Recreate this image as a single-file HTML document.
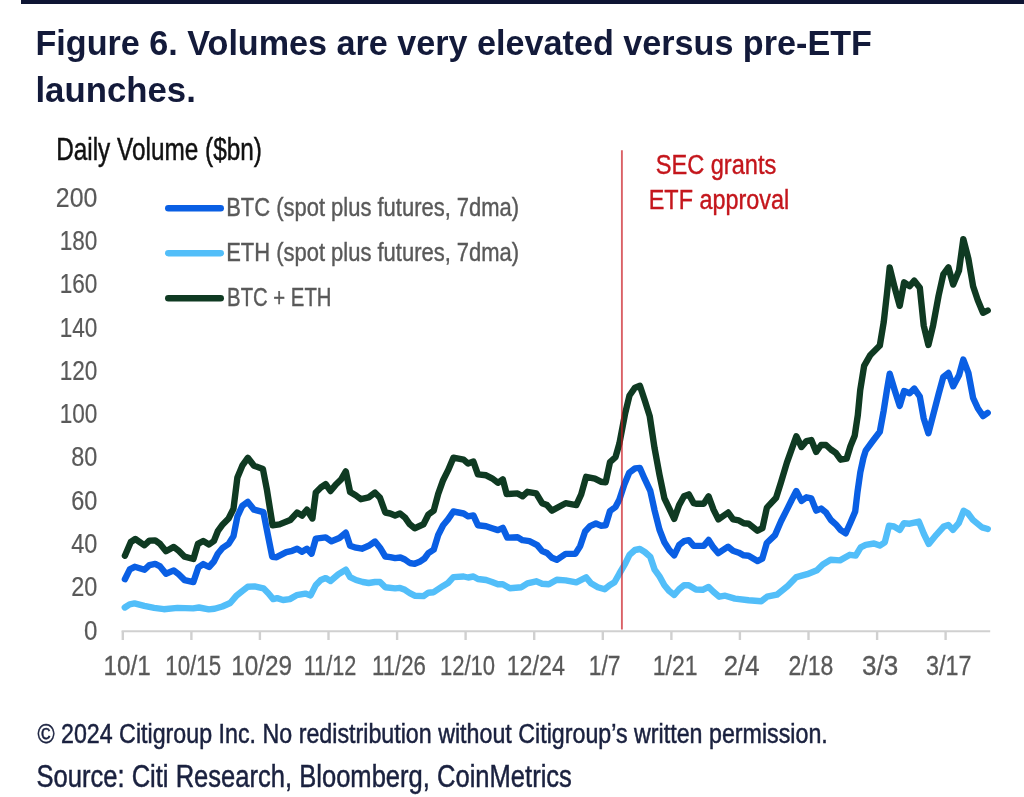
<!DOCTYPE html>
<html lang="en"><head><meta charset="utf-8"><title>Figure 6. Volumes are very elevated versus pre-ETF launches.</title>
<style>
html,body{margin:0;padding:0;background:#fff;}
body{width:1024px;height:797px;overflow:hidden;position:relative;font-family:"Liberation Sans",sans-serif;}
.topbar{position:absolute;left:21px;top:0;width:1003px;height:3.5px;background:#0e1533;}
svg{position:absolute;left:0;top:0;}
svg text{font-family:"Liberation Sans",sans-serif;}
</style></head><body>
<div class="topbar"></div>
<svg width="1024" height="797" viewBox="0 0 1024 797">
<g class="title">
<text x="35.48" y="55.0" font-size="35" fill="#131a3a" font-weight="bold" textLength="836.42" lengthAdjust="spacingAndGlyphs">Figure 6. Volumes are very elevated versus pre-ETF</text>
<text x="35.48" y="101.6" font-size="35" fill="#131a3a" font-weight="bold" textLength="160.32" lengthAdjust="spacingAndGlyphs">launches.</text>
</g>
<text x="56.19" y="160.1" font-size="32" fill="#111111" stroke="#111111" stroke-width="0.5" textLength="205.66" lengthAdjust="spacingAndGlyphs">Daily Volume ($bn)</text>
<g class="yaxis">
<text x="83.96" y="639.7" font-size="27.5" fill="#595959" stroke="#595959" stroke-width="0.2" textLength="13.40" lengthAdjust="spacingAndGlyphs">0</text>
<text x="71.26" y="596.4" font-size="27.5" fill="#595959" stroke="#595959" stroke-width="0.2" textLength="26.10" lengthAdjust="spacingAndGlyphs">20</text>
<text x="71.26" y="553.1" font-size="27.5" fill="#595959" stroke="#595959" stroke-width="0.2" textLength="26.10" lengthAdjust="spacingAndGlyphs">40</text>
<text x="71.26" y="509.7" font-size="27.5" fill="#595959" stroke="#595959" stroke-width="0.2" textLength="26.10" lengthAdjust="spacingAndGlyphs">60</text>
<text x="71.26" y="466.4" font-size="27.5" fill="#595959" stroke="#595959" stroke-width="0.2" textLength="26.10" lengthAdjust="spacingAndGlyphs">80</text>
<text x="59.68" y="423.1" font-size="27.5" fill="#595959" stroke="#595959" stroke-width="0.2" textLength="37.68" lengthAdjust="spacingAndGlyphs">100</text>
<text x="59.68" y="379.8" font-size="27.5" fill="#595959" stroke="#595959" stroke-width="0.2" textLength="37.68" lengthAdjust="spacingAndGlyphs">120</text>
<text x="59.68" y="336.5" font-size="27.5" fill="#595959" stroke="#595959" stroke-width="0.2" textLength="37.68" lengthAdjust="spacingAndGlyphs">140</text>
<text x="59.68" y="293.1" font-size="27.5" fill="#595959" stroke="#595959" stroke-width="0.2" textLength="37.68" lengthAdjust="spacingAndGlyphs">160</text>
<text x="59.68" y="249.8" font-size="27.5" fill="#595959" stroke="#595959" stroke-width="0.2" textLength="37.68" lengthAdjust="spacingAndGlyphs">180</text>
<text x="55.82" y="206.5" font-size="27.5" fill="#595959" stroke="#595959" stroke-width="0.2" textLength="41.54" lengthAdjust="spacingAndGlyphs">200</text>
</g>
<g class="xaxis">
<path d="M121.6,631.2H990.2" stroke="#d0d0d0" stroke-width="2.1" fill="none"/>
<path d="M122.8,631.2V640" stroke="#d0d0d0" stroke-width="2.4" fill="none"/>
<path d="M191.4,631.2V640" stroke="#d0d0d0" stroke-width="2.4" fill="none"/>
<path d="M259.9,631.2V640" stroke="#d0d0d0" stroke-width="2.4" fill="none"/>
<path d="M328.5,631.2V640" stroke="#d0d0d0" stroke-width="2.4" fill="none"/>
<path d="M397.1,631.2V640" stroke="#d0d0d0" stroke-width="2.4" fill="none"/>
<path d="M465.6,631.2V640" stroke="#d0d0d0" stroke-width="2.4" fill="none"/>
<path d="M534.2,631.2V640" stroke="#d0d0d0" stroke-width="2.4" fill="none"/>
<path d="M602.8,631.2V640" stroke="#d0d0d0" stroke-width="2.4" fill="none"/>
<path d="M671.4,631.2V640" stroke="#d0d0d0" stroke-width="2.4" fill="none"/>
<path d="M739.9,631.2V640" stroke="#d0d0d0" stroke-width="2.4" fill="none"/>
<path d="M808.5,631.2V640" stroke="#d0d0d0" stroke-width="2.4" fill="none"/>
<path d="M877.1,631.2V640" stroke="#d0d0d0" stroke-width="2.4" fill="none"/>
<path d="M945.6,631.2V640" stroke="#d0d0d0" stroke-width="2.4" fill="none"/>
<text x="103.58" y="674.5" font-size="27" fill="#595959" stroke="#595959" stroke-width="0.3" textLength="47.30" lengthAdjust="spacingAndGlyphs">10/1</text>
<text x="165.34" y="674.5" font-size="27" fill="#595959" stroke="#595959" stroke-width="0.3" textLength="55.75" lengthAdjust="spacingAndGlyphs">10/15</text>
<text x="231.20" y="674.5" font-size="27" fill="#595959" stroke="#595959" stroke-width="0.3" textLength="60.89" lengthAdjust="spacingAndGlyphs">10/29</text>
<text x="303.63" y="674.5" font-size="27" fill="#595959" stroke="#595959" stroke-width="0.3" textLength="52.65" lengthAdjust="spacingAndGlyphs">11/12</text>
<text x="371.96" y="674.5" font-size="27" fill="#595959" stroke="#595959" stroke-width="0.3" textLength="53.94" lengthAdjust="spacingAndGlyphs">11/26</text>
<text x="439.96" y="674.5" font-size="27" fill="#595959" stroke="#595959" stroke-width="0.3" textLength="55.18" lengthAdjust="spacingAndGlyphs">12/10</text>
<text x="506.63" y="674.5" font-size="27" fill="#595959" stroke="#595959" stroke-width="0.3" textLength="58.32" lengthAdjust="spacingAndGlyphs">12/24</text>
<text x="588.77" y="674.5" font-size="27" fill="#595959" stroke="#595959" stroke-width="0.3" textLength="31.75" lengthAdjust="spacingAndGlyphs">1/7</text>
<text x="652.77" y="674.5" font-size="27" fill="#595959" stroke="#595959" stroke-width="0.3" textLength="44.73" lengthAdjust="spacingAndGlyphs">1/21</text>
<text x="723.77" y="674.5" font-size="27" fill="#595959" stroke="#595959" stroke-width="0.3" textLength="35.80" lengthAdjust="spacingAndGlyphs">2/4</text>
<text x="788.48" y="674.5" font-size="27" fill="#595959" stroke="#595959" stroke-width="0.3" textLength="44.85" lengthAdjust="spacingAndGlyphs">2/18</text>
<text x="862.05" y="674.5" font-size="27" fill="#595959" stroke="#595959" stroke-width="0.3" textLength="36.23" lengthAdjust="spacingAndGlyphs">3/3</text>
<text x="926.10" y="674.5" font-size="27" fill="#595959" stroke="#595959" stroke-width="0.3" textLength="45.37" lengthAdjust="spacingAndGlyphs">3/17</text>
</g>
<g class="legend">
<path d="M168.3,208.2H220.7" stroke="#0a5fe4" stroke-width="6.5" stroke-linecap="round" fill="none"/>
<text x="226.20" y="216.4" font-size="25.5" fill="#595959" stroke="#595959" stroke-width="0.4" textLength="292.89" lengthAdjust="spacingAndGlyphs">BTC (spot plus futures, 7dma)</text>
<path d="M168.3,253.2H220.7" stroke="#52bef9" stroke-width="6.5" stroke-linecap="round" fill="none"/>
<text x="226.20" y="261.4" font-size="25.5" fill="#595959" stroke="#595959" stroke-width="0.4" textLength="292.89" lengthAdjust="spacingAndGlyphs">ETH (spot plus futures, 7dma)</text>
<path d="M168.3,298.2H220.7" stroke="#0f3a22" stroke-width="6.5" stroke-linecap="round" fill="none"/>
<text x="227.10" y="306.4" font-size="25.5" fill="#595959" stroke="#595959" stroke-width="0.4" textLength="104.37" lengthAdjust="spacingAndGlyphs">BTC + ETH</text>
</g>
<g class="series" fill="none" stroke-width="6.4" stroke-linecap="round" stroke-linejoin="round">
<path d="M124.9,579.2 L129.8,569.4 L134.7,566.8 L144.5,569.8 L149.4,565.1 L155.2,563.9 L160.1,566.4 L166.0,573.7 L173.8,570.4 L178.7,574.3 L184.6,580.1 L193.4,582.1 L198.3,567.4 L203.2,564.1 L209.0,567.0 L213.9,561.5 L217.8,553.7 L222.7,547.8 L228.6,543.9 L233.5,536.1 L237.4,516.5 L242.3,505.8 L247.8,501.9 L254.0,509.7 L263.4,512.2 L267.7,534.1 L272.2,556.7 L276.6,557.2 L286.3,552.2 L292.2,550.8 L297.1,548.8 L302.0,551.8 L306.9,548.8 L311.6,553.7 L315.8,538.7 L325.7,537.4 L331.5,541.3 L339.4,538.0 L345.8,532.7 L350.1,545.8 L356.0,547.7 L361.9,548.7 L368.7,545.8 L375.0,541.5 L380.0,547.7 L385.3,556.5 L390.2,557.1 L395.1,558.1 L400.4,557.5 L404.9,559.5 L409.8,563.0 L414.7,563.8 L419.6,561.8 L424.5,558.5 L428.4,553.2 L433.7,549.7 L438.2,535.0 L443.1,525.2 L448.0,519.4 L453.4,511.5 L463.6,513.5 L468.1,516.4 L473.4,515.4 L477.9,525.2 L486.1,526.2 L492.0,528.2 L497.9,530.1 L502.8,527.8 L507.3,537.6 L517.6,537.3 L522.5,540.2 L529.4,541.2 L537.2,545.1 L542.1,551.0 L547.0,553.0 L551.9,557.8 L556.8,559.8 L565.6,553.9 L575.3,553.9 L580.2,546.1 L585.1,531.5 L590.0,526.1 L595.9,523.5 L600.8,525.7 L605.7,525.2 L610.0,511.0 L615.5,507.0 L619.4,499.6 L624.3,484.5 L629.2,472.7 L635.0,468.4 L639.9,467.9 L644.8,479.2 L650.3,490.9 L654.6,510.5 L659.5,529.8 L664.4,542.2 L669.3,550.0 L674.2,555.3 L679.1,545.1 L684.0,541.2 L688.8,540.2 L693.7,545.9 L703.7,545.9 L708.6,540.0 L713.4,547.4 L718.3,553.2 L728.1,546.7 L733.0,550.8 L738.8,552.7 L743.7,555.3 L748.6,555.7 L757.4,561.1 L762.3,558.6 L766.8,543.0 L775.0,535.1 L781.0,521.3 L786.9,509.6 L791.8,499.8 L796.3,491.0 L801.5,500.8 L806.4,497.3 L811.3,498.4 L816.2,510.6 L821.1,508.6 L826.0,512.5 L830.9,520.0 L835.8,524.3 L840.7,530.1 L845.7,533.3 L850.5,522.5 L855.2,511.5 L857.5,492.0 L860.3,472.4 L863.4,458.0 L865.7,450.6 L872.0,442.0 L879.8,431.8 L883.7,410.6 L886.9,390.2 L889.7,373.7 L894.7,390.2 L899.7,405.9 L904.1,391.0 L909.6,393.3 L914.3,388.6 L919.8,396.5 L923.7,418.4 L928.4,433.3 L933.1,415.3 L938.6,394.1 L943.3,376.9 L948.4,372.9 L953.2,386.3 L959.0,375.3 L963.3,359.6 L968.4,372.9 L973.1,398.0 L977.8,408.2 L983.0,416.1 L987.7,412.9" stroke="#0a5fe4"/>
<path d="M124.8,607.5 L129.6,604.3 L134.5,603.4 L144.3,605.9 L154.1,607.9 L163.8,609.2 L177.5,607.9 L193.1,608.4 L199.0,607.5 L208.8,609.4 L214.6,608.8 L222.4,606.5 L230.2,603.0 L236.1,596.1 L242.0,591.3 L247.8,586.8 L254.6,586.4 L263.4,588.3 L268.3,593.2 L273.2,599.1 L277.1,598.1 L283.0,600.0 L289.8,599.1 L296.6,595.2 L305.4,593.6 L310.6,595.4 L315.9,584.9 L320.8,580.0 L325.7,578.1 L330.5,581.0 L338.4,574.2 L345.8,569.7 L350.1,577.1 L356.0,580.0 L362.8,582.0 L368.7,583.0 L375.0,582.0 L380.0,582.0 L385.3,587.3 L395.1,588.4 L400.0,587.9 L404.9,589.8 L409.8,593.1 L414.7,595.7 L423.5,596.1 L428.4,592.7 L433.7,592.2 L443.1,585.9 L448.0,583.0 L453.4,577.1 L463.6,576.5 L468.1,577.5 L473.4,576.5 L477.9,579.0 L486.1,580.0 L492.0,582.0 L497.9,584.3 L502.8,584.3 L509.8,588.2 L521.5,587.2 L527.4,583.3 L536.2,581.3 L542.1,583.7 L548.9,584.3 L556.8,579.8 L565.6,580.4 L576.3,582.3 L586.1,577.4 L591.0,583.3 L597.8,587.2 L604.7,589.2 L609.6,585.2 L614.5,582.3 L619.4,573.5 L625.2,563.7 L629.5,554.9 L635.0,550.0 L639.9,549.0 L644.8,552.0 L650.3,556.9 L654.6,569.6 L659.5,576.4 L664.4,585.2 L669.3,591.1 L674.2,595.0 L679.1,589.2 L684.0,585.2 L688.8,585.2 L695.9,589.5 L702.7,589.8 L708.6,586.9 L713.4,591.8 L719.3,596.7 L725.2,595.7 L734.9,598.6 L748.6,600.2 L761.3,601.2 L767.1,596.7 L776.9,594.7 L787.7,585.9 L796.4,577.1 L807.2,574.2 L817.0,570.3 L822.8,564.5 L830.6,559.8 L840.0,560.4 L849.9,554.8 L855.7,555.6 L860.7,547.3 L865.7,544.8 L874.0,543.5 L879.8,545.6 L884.8,542.3 L889.0,525.7 L894.0,526.5 L899.8,529.9 L903.9,523.2 L909.7,523.7 L918.9,521.6 L923.9,534.0 L928.8,544.0 L936.3,534.8 L943.8,526.5 L948.3,524.9 L952.9,529.9 L958.7,523.2 L963.7,510.8 L967.9,513.3 L972.9,519.9 L982.0,527.4 L987.8,529.0" stroke="#52bef9"/>
<path d="M124.9,555.7 L130.8,542.0 L135.3,539.0 L144.5,545.3 L149.4,540.6 L155.2,540.4 L160.1,543.9 L166.0,551.2 L173.8,546.9 L178.7,550.8 L184.6,556.7 L193.4,559.0 L197.9,543.9 L203.2,541.0 L209.0,544.5 L213.9,541.0 L217.8,531.2 L222.7,524.4 L228.6,518.5 L233.5,508.7 L237.4,477.4 L242.3,465.7 L247.8,457.8 L254.0,465.7 L262.9,469.0 L266.8,489.1 L272.6,525.3 L279.5,524.4 L290.3,520.0 L297.1,512.6 L302.0,515.6 L306.9,509.7 L312.4,518.5 L315.8,492.5 L320.8,487.5 L325.7,484.1 L330.5,491.0 L335.4,485.1 L341.3,479.2 L345.8,471.4 L350.1,492.0 L356.0,495.5 L360.9,499.2 L368.7,497.4 L375.0,492.6 L380.0,497.8 L385.3,512.5 L390.2,513.5 L395.1,515.5 L400.0,513.5 L404.9,517.4 L409.8,524.3 L414.7,528.2 L423.5,524.3 L428.4,514.5 L433.7,510.6 L438.2,493.9 L443.1,480.2 L448.0,470.4 L453.4,457.7 L463.6,459.7 L468.1,463.6 L473.4,461.6 L477.9,474.4 L486.1,475.3 L492.0,478.3 L497.9,482.8 L502.8,479.4 L506.7,494.1 L517.6,493.4 L522.5,496.3 L527.4,491.8 L536.2,493.4 L542.1,503.2 L547.0,505.1 L551.9,510.6 L565.6,503.2 L576.3,505.1 L581.2,494.4 L586.1,476.8 L594.9,478.7 L600.8,481.7 L605.7,482.2 L610.0,462.1 L615.5,457.2 L619.4,443.5 L625.2,413.2 L629.5,395.5 L635.0,387.7 L639.9,385.8 L644.8,400.4 L649.7,416.1 L654.6,448.4 L659.5,474.8 L664.4,498.3 L674.2,518.8 L679.1,505.1 L684.0,496.3 L688.8,494.4 L693.7,503.2 L695.9,503.7 L703.7,503.7 L708.6,496.3 L713.5,509.6 L718.4,519.4 L728.2,512.5 L733.1,519.4 L738.9,520.4 L743.8,523.3 L748.7,523.7 L757.5,530.7 L762.4,528.2 L766.9,507.6 L776.1,497.8 L781.0,482.2 L786.9,462.6 L791.8,448.9 L796.3,436.2 L801.5,447.0 L806.4,441.1 L811.3,440.1 L816.2,451.9 L821.1,445.0 L826.0,445.0 L830.9,449.5 L835.8,452.8 L840.7,459.7 L846.6,458.7 L850.5,446.0 L854.7,435.7 L857.8,415.3 L860.2,390.2 L864.1,365.9 L870.4,354.9 L879.8,345.6 L883.7,322.3 L886.9,294.0 L889.7,267.4 L894.7,287.7 L899.7,305.8 L904.1,282.3 L909.6,286.2 L914.3,280.7 L919.8,287.7 L923.7,325.4 L928.4,345.0 L933.1,325.4 L938.6,295.6 L943.3,274.4 L948.4,267.4 L953.2,284.6 L959.0,270.5 L963.3,239.1 L968.4,258.7 L973.1,286.2 L977.8,300.3 L983.0,312.8 L987.7,310.5" stroke="#0f3a22"/>
</g>
<path d="M621.9,150.3V629.4" stroke="#c8161d" stroke-opacity="0.68" stroke-width="1.9" fill="none"/>
<text x="655.67" y="173.9" font-size="27" fill="#c4161c" stroke="#c4161c" stroke-width="0.4" textLength="120.66" lengthAdjust="spacingAndGlyphs">SEC grants</text>
<text x="648.72" y="209.2" font-size="27" fill="#c4161c" stroke="#c4161c" stroke-width="0.4" textLength="140.56" lengthAdjust="spacingAndGlyphs">ETF approval</text>
<text x="37.38" y="743.4" font-size="27" fill="#1a213f" stroke="#1a213f" stroke-width="0.5" textLength="790.42" lengthAdjust="spacingAndGlyphs">© 2024 Citigroup Inc. No redistribution without Citigroup’s written permission.</text>
<text x="36.48" y="786.5" font-size="31" fill="#1a213f" stroke="#1a213f" stroke-width="0.5" textLength="535.42" lengthAdjust="spacingAndGlyphs">Source: Citi Research, Bloomberg, CoinMetrics</text>
</svg></body></html>
